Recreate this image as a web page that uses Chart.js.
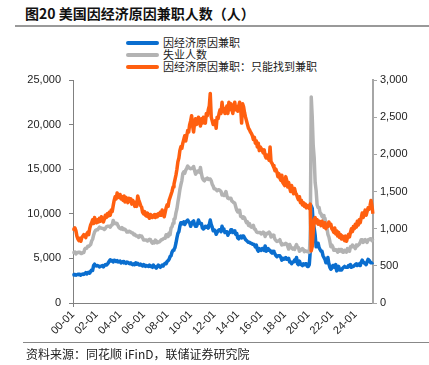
<!DOCTYPE html>
<html>
<head>
<meta charset="utf-8">
<script src="https://cdn.jsdelivr.net/npm/chart.js@4.4.1/dist/chart.umd.min.js"></script>
<style>
  body { margin: 0; width: 429px; height: 365px; background: #fff; position: relative; overflow: hidden;
         font-family: "Noto Sans CJK SC", sans-serif; }
  #title { position: absolute; left: 25px; top: 3px; font-size: 14px; font-weight: bold; color: #111; white-space: nowrap; }
  #topline { position: absolute; left: 15px; right: 0; top: 25px; height: 2px; background: #999; }
  #botline { position: absolute; left: 23px; right: 0; top: 342px; height: 1px; background: #888; }
  #source { position: absolute; left: 26px; top: 345px; font-size: 12px; color: #222; white-space: nowrap; }
  .lg { position: absolute; left: 126px; font-size: 11px; line-height: 12px; color: #222; white-space: nowrap; }
  .lg span { display: inline-block; width: 33px; height: 4px; border-radius: 2px; vertical-align: middle; margin-right: 4px; position: relative; top: -1px; }
  canvas { position: absolute; left: 0; top: 0; }
</style>
</head>
<body>
<div id="title">图20 美国因经济原因兼职人数（人）</div>
<div id="topline"></div>
<div class="lg" style="top:36px"><span style="background:#0a6ecf"></span>因经济原因兼职</div>
<div class="lg" style="top:48px"><span style="background:#b3b3b3"></span>失业人数</div>
<div class="lg" style="top:60px"><span style="background:#ff5f0f"></span>因经济原因兼职：只能找到兼职</div>
<canvas id="myChart" width="429" height="365"></canvas>
<div id="botline"></div>
<div id="source">资料来源：同花顺 iFinD，联储证券研究院</div>
<script>
const START_YEAR = 2000;  // monthly data, 2000-01 .. 2025-07
const tickLabels = ['00-01', '02-01', '04-01', '06-01', '08-01', '10-01', '12-01',
                    '14-01', '16-01', '18-01', '20-01', '22-01', '24-01'];

// 因经济原因兼职 (left axis)
const partTimeEcon = [
  3190, 3150, 3200, 3120, 3170, 3230, 3180, 3230, 3120, 3200, 3250, 3210,
  3300, 3400, 3250, 3400, 3450, 3350, 3550, 3700, 3650, 4200, 4350, 4200,
  4150, 4200, 4150, 4050, 4100, 4150, 4200, 4050, 4200, 4300, 4250, 4350,
  4500, 4700, 4850, 4700, 4750, 4600, 4800, 4750, 4650, 4750, 4600, 4650,
  4700, 4500, 4600, 4650, 4500, 4550, 4450, 4600, 4550, 4450, 4400, 4500,
  4350, 4300, 4400, 4300, 4500, 4350, 4450, 4300, 4250, 4350, 4250, 4150,
  4300, 4250, 4100, 4200, 4150, 4100, 4250, 4100, 4150, 4000, 4250, 4050,
  4050, 3900, 4100, 4250, 4150, 4000, 4100, 4250, 4150, 4350, 4450, 4400,
  4650, 4750, 4900, 5200, 5300, 5700, 5900, 6000, 6200, 6700, 7300, 7800,
  8000, 8600, 9000, 9000, 8900, 9100, 8800, 9000, 9200, 9300, 9100, 9000,
  8600, 8900, 9100, 9200, 8800, 8600, 8600, 8900, 9300, 9000, 8900, 8900,
  8400, 8300, 8400, 8600, 8500, 8600, 8400, 8800, 9300, 8800, 8500, 8100,
  8200, 8100, 7700, 7900, 8100, 8200, 8200, 8000, 8600, 8300, 8200, 7900,
  8000, 8000, 7600, 7900, 7900, 8200, 8200, 7900, 8000, 8100, 7700, 7800,
  7300, 7200, 7400, 7500, 7300, 7500, 7500, 7300, 7100, 7000, 6900, 6800,
  6800, 6700, 6700, 6600, 6600, 6500, 6300, 6500, 6000, 5800, 6100, 6000,
  5900, 6100, 6100, 5900, 6400, 5800, 5900, 6100, 5900, 5900, 5700, 5600,
  5800, 5700, 5500, 5300, 5200, 5300, 5300, 5300, 5100, 4800, 5000, 4900,
  5000, 5100, 4900, 4900, 5000, 4600, 4600, 4400, 4600, 4600, 4800, 4700,
  5100, 4400, 4300, 4700, 4400, 4300, 4200, 4400, 4300, 4400, 4400, 4100,
  4100, 4300, 5800, 10900, 10600, 9000, 8400, 7600, 6300, 6700, 6700, 6200,
  6000, 5800, 5800, 5300, 5300, 4900, 4500, 4500, 5100, 4400, 4000, 3800,
  3900, 4200, 4200, 4000, 4300, 3600, 3900, 4100, 3700, 3700, 3700, 3900,
  4000, 4100, 4000, 4000, 4000, 4200, 4100, 4300, 4000, 4100, 4100, 4200,
  4300, 4400, 4200, 4300, 4400, 4200, 4600, 4800, 4600, 4500, 4400, 4300,
  4600, 4900, 4800, 4600, 4500, 4500, 4600
];

// 失业人数 (left axis)
const unemployed = [
  5700, 5650, 5700, 5500, 5650, 5650, 5700, 5700, 5550, 5550, 5650, 5650,
  6050, 6150, 6150, 6350, 6350, 6450, 6550, 6950, 7150, 7600, 7950, 8150,
  8200, 8200, 8350, 8500, 8400, 8400, 8350, 8350, 8250, 8350, 8550, 8600,
  8600, 8600, 8500, 8700, 8750, 9250, 9000, 8900, 8950, 8900, 8650, 8450,
  8350, 8300, 8450, 8250, 8300, 8250, 8150, 7950, 7950, 8050, 8000, 7950,
  7850, 7850, 7650, 7700, 7550, 7500, 7500, 7350, 7550, 7450, 7500, 7300,
  7050, 7050, 7050, 7050, 6950, 7050, 7150, 7100, 6850, 6700, 6850, 6750,
  7050, 6950, 6750, 6850, 6850, 6950, 7100, 7100, 7200, 7250, 7250, 7650,
  7650, 7450, 7850, 7650, 8400, 8550, 8950, 9400, 9450, 10100, 10550, 11300,
  11950, 12700, 13250, 13700, 14500, 14700, 14550, 14900, 15100, 15350, 15200, 15100,
  15050, 15100, 15150, 15300, 14850, 14450, 14600, 14800, 14750, 14650, 15200, 14500,
  14000, 13800, 13700, 13900, 13900, 14000, 13850, 13900, 13900, 13700, 13300, 13100,
  12800, 12800, 12700, 12600, 12700, 12700, 12600, 12500, 12100, 12150, 12050, 12250,
  12500, 12000, 11750, 11700, 11750, 11750, 11450, 11350, 11250, 11200, 10800, 10400,
  10200, 10400, 10400, 9700, 9700, 9500, 9650, 9550, 9250, 9000, 9100, 8700,
  8900, 8600, 8500, 8550, 8700, 8300, 8250, 8000, 7900, 7900, 7900, 7900,
  7750, 7800, 7950, 7850, 7450, 7800, 7750, 7850, 7950, 7800, 7400, 7500,
  7600, 7450, 7150, 7000, 6900, 6950, 6950, 7100, 6750, 6500, 6600, 6550,
  6600, 6700, 6600, 6350, 6050, 6550, 6300, 6200, 6050, 6150, 6000, 6300,
  6550, 6250, 6200, 5800, 5900, 6000, 6100, 6000, 5750, 5850, 5800, 5750,
  5800, 5700, 7150, 23100, 20900, 17700, 16300, 13500, 12600, 11000, 10700, 10700,
  10100, 10000, 9700, 9800, 9300, 9500, 8700, 8400, 7700, 7400, 6900, 6300,
  6500, 6300, 5900, 5900, 6000, 5900, 5700, 6000, 5800, 6000, 6000, 5700,
  5700, 5900, 5800, 5700, 6100, 6000, 5800, 6300, 6300, 6500, 6300, 6300,
  6100, 6500, 6400, 6500, 6600, 6800, 7100, 7100, 6800, 7000, 7100, 6900,
  6800, 7100, 7100, 7200, 7200, 7000, 7200
];

// 因经济原因兼职：只能找到兼职 (right axis)
const onlyPartTime = [
  1000, 990, 1010, 970, 900, 860, 840, 870, 830, 880, 900, 920,
  910, 880, 930, 950, 920, 1000, 1050, 1080, 1120, 1070, 1150, 1100,
  1080, 1120, 1090, 1140, 1100, 1160, 1120, 1090, 1130, 1180, 1150, 1200,
  1170, 1220, 1180, 1250, 1230, 1310, 1380, 1430, 1400, 1480, 1450, 1420,
  1460, 1400, 1430, 1380, 1440, 1360, 1420, 1390, 1350, 1410, 1370, 1400,
  1330, 1380, 1350, 1300, 1360, 1300, 1440, 1390, 1350, 1310, 1290, 1220,
  1200, 1230, 1180, 1170, 1210, 1160, 1140, 1190, 1170, 1150, 1180, 1190,
  1150, 1190, 1160, 1200, 1180, 1220, 1180, 1250, 1200, 1160, 1220, 1280,
  1320, 1300, 1380, 1420, 1460, 1500, 1560, 1600, 1660, 1720, 1800, 1900,
  1950, 2050, 2100, 2080, 2150, 2200, 2250, 2180, 2250, 2320, 2300, 2400,
  2450, 2520, 2380, 2300, 2420, 2480, 2400, 2450, 2500, 2440, 2380, 2480,
  2420, 2500, 2460, 2420, 2550, 2520, 2600, 2650, 2820, 2500, 2450, 2400,
  2400, 2450, 2350, 2500, 2480, 2550, 2600, 2550, 2700, 2580, 2620, 2550,
  2600, 2650, 2550, 2700, 2600, 2680, 2620, 2550, 2650, 2700, 2600, 2640,
  2580, 2650, 2700, 2620, 2420, 2680, 2640, 2560, 2500, 2450, 2400, 2350,
  2330, 2300, 2280, 2250, 2200, 2230, 2150, 2180, 2100, 2150, 2050, 2100,
  2080, 2050, 2020, 2060, 1980, 1950, 1990, 1960, 1920, 2100, 1900, 1880,
  1850, 1820, 1780, 1800, 1760, 1700, 1740, 1680, 1650, 1720, 1620, 1600,
  1580, 1700, 1650, 1560, 1620, 1550, 1500, 1580, 1520, 1470, 1540, 1480,
  1460, 1420, 1390, 1430, 1350, 1380, 1320, 1350, 1300, 1330, 1280, 1310,
  1300, 1270, 1330, 700, 760, 950, 1120, 1150, 1080, 1120, 1060, 1100,
  1080, 1040, 1100, 1060, 1020, 1080, 1000, 1050, 1030, 1090, 1040, 1060,
  1000, 980, 950, 1010, 930, 970, 900, 950, 880, 920, 860, 900,
  860, 840, 900, 830, 880, 920, 890, 950, 1000, 960, 1030, 1000,
  1060, 1020, 1100, 1050, 1120, 1080, 1150, 1210, 1150, 1200, 1250, 1180,
  1230, 1280, 1260, 1310, 1380, 1300, 1200
];

const months = [];
for (let i = 0; i < partTimeEcon.length; i++) {
    const yy = String((START_YEAR + Math.floor(i / 12)) % 100).padStart(2, '0');
    const mm = String(i % 12 + 1).padStart(2, '0');
    months.push(yy + '-' + mm);
}

const isTick = i => tickLabels.includes(months[i]);
const tickFont = { family: '"Liberation Sans", Arial, sans-serif', size: 11 };

const ctx = document.getElementById('myChart').getContext('2d');
new Chart(ctx, {
    type: 'line',
    data: {
        labels: months,
        datasets: [
            { label: '因经济原因兼职', data: partTimeEcon, yAxisID: 'y', borderColor: '#0a6ecf', order: 3 },
            { label: '失业人数', data: unemployed, yAxisID: 'y', borderColor: '#b3b3b3', order: 2 },
            { label: '因经济原因兼职：只能找到兼职', data: onlyPartTime, yAxisID: 'y1', borderColor: '#ff5f0f', order: 1 }
        ]
    },
    options: {
        responsive: false,
        animation: false,
        datasets: { line: { borderWidth: 3.5, pointRadius: 0, tension: 0, borderJoinStyle: 'round' } },
        layout: { padding: { top: 80, left: 0, right: 0, bottom: 0 } },
        plugins: { legend: { display: false }, tooltip: { enabled: false } },
        scales: {
            x: {
                offset: false,
                grid: {
                    drawOnChartArea: false, drawTicks: true, tickLength: 4,
                    color: c => isTick(c.index) ? '#808080' : 'rgba(0,0,0,0)'
                },
                border: { color: '#808080', width: 1 },
                ticks: {
                    autoSkip: false, maxRotation: 45, minRotation: 45, padding: 1,
                    color: '#222', font: tickFont,
                    callback: (v, i) => isTick(i) ? months[i] : null
                },
                afterFit: s => { s.height = 62; }
            },
            y: {
                position: 'left', min: 0, max: 25000,
                grid: { drawOnChartArea: false, tickLength: 4, color: '#808080' },
                border: { color: '#808080', width: 1 },
                ticks: { stepSize: 5000, padding: 8, color: '#222', font: tickFont,
                         callback: v => v.toLocaleString('en-US') },
                afterFit: s => { s.width = 73; }
            },
            y1: {
                position: 'right', min: 0, max: 3000,
                grid: { drawOnChartArea: false, tickLength: 4, color: '#a6a6a6' },
                border: { color: '#a6a6a6', width: 2 },
                ticks: { stepSize: 500, padding: 3, color: '#222', font: tickFont,
                         callback: v => v.toLocaleString('en-US') },
                afterFit: s => { s.width = 56; }
            }
        }
    }
});
</script>
</body>
</html>
